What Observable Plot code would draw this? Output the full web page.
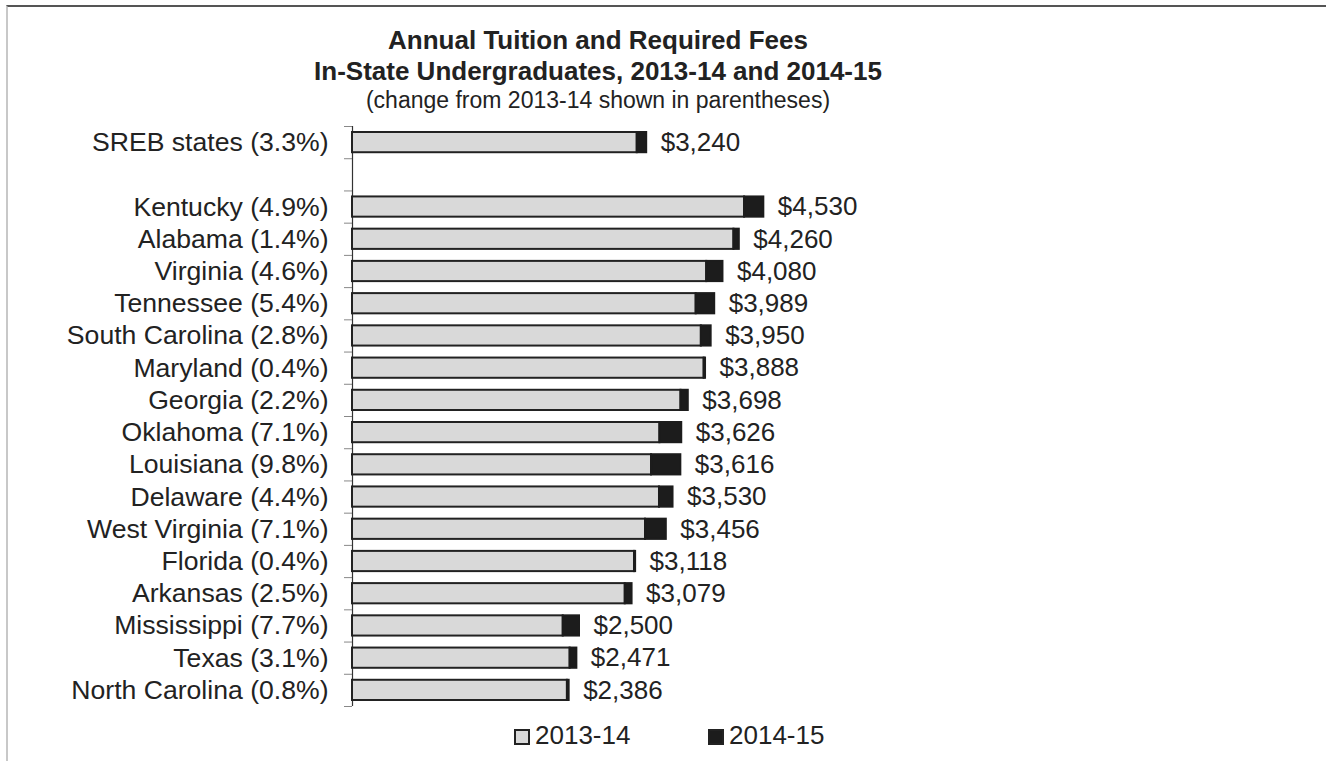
<!DOCTYPE html>
<html>
<head>
<meta charset="utf-8">
<script src="https://cdn.jsdelivr.net/npm/d3@7"></script>
<script src="https://cdn.jsdelivr.net/npm/@observablehq/plot@0.6"></script>
<style>
  body { margin: 0; background: #fff; font-family: "Liberation Sans", Arial, sans-serif; color: #222; }
  #page { position: relative; width: 1326px; height: 761px; overflow: hidden; background: #fff; }
  #frame { position: absolute; left: 6px; top: 5px; right: -10px; bottom: -10px;
           border-top: 2px solid #555; border-left: 2px solid #c8c8c8; }
  .t { position: absolute; left: 0; width: 1196px; text-align: center; white-space: nowrap; line-height: 28px; color: #222; }
  #t1 { top: 26px; font-size: 26px; font-weight: bold; }
  #t2 { top: 57px; font-size: 26px; font-weight: bold; }
  #t3 { top: 86px; font-size: 23px; }
  #chart { position: absolute; left: 0; top: 110px; }
  .leg { position: absolute; top: 720px; height: 30px; line-height: 30px; font-size: 26px; white-space: nowrap; color: #222; }
  .leg .sw { display: inline-block; width: 12px; height: 12px; border: 2px solid #222; vertical-align: -1px; margin-right: 5px; }
</style>
</head>
<body>
<div id="page">
  <div id="frame"></div>
  <div class="t" id="t1">Annual Tuition and Required Fees</div>
  <div class="t" id="t2">In-State Undergraduates, 2013-14 and 2014-15</div>
  <div class="t" id="t3">(change from 2013-14 shown in parentheses)</div>
  <div id="chart"></div>
  <div id="legend"></div>
</div>
<script>
// ---- data ----
const states = ["SREB states", "Kentucky", "Alabama", "Virginia", "Tennessee", "South Carolina",
  "Maryland", "Georgia", "Oklahoma", "Louisiana", "Delaware", "West Virginia", "Florida",
  "Arkansas", "Mississippi", "Texas", "North Carolina"];
const changePct = [3.3, 4.9, 1.4, 4.6, 5.4, 2.8, 0.4, 2.2, 7.1, 9.8, 4.4, 7.1, 0.4, 2.5, 7.7, 3.1, 0.8];
const fees2014 = [3240, 4530, 4260, 4080, 3989, 3950, 3888, 3698, 3626, 3616, 3530, 3456, 3118, 3079, 2500, 2471, 2386];
const fees2013 = [3136, 4318, 4201, 3901, 3785, 3842, 3873, 3618, 3386, 3293, 3381, 3227, 3106, 3004, 2321, 2397, 2367];
const seriesNames = ["2013-14", "2014-15"];
const seriesColors = ["#d9d9d9", "#1c1c1c"];

// first row (SREB) is followed by a blank row
const rows = states.map((s, i) => ({
  row: i === 0 ? 0 : i + 1,
  label: `${s} (${changePct[i].toFixed(1)}%)`,
  fee2013: fees2013[i],
  fee2014: fees2014[i]
}));
const nRows = states.length + 1;
const labelByRow = new Map(rows.map(d => [d.row, d.label]));
const boundaries = d3.range(nRows + 1).map(k => k - 0.5);
const fmt = d3.format("$,");

const chart = Plot.plot({
  width: 1326,
  height: 610,
  marginLeft: 352,
  marginRight: 520,
  marginTop: 16,
  marginBottom: 14,
  style: { fontFamily: "'Liberation Sans', Arial, sans-serif", fontSize: "26px", color: "#222", background: "transparent" },
  x: { domain: [0, 5000], axis: null },
  y: { domain: [-0.5, nRows - 0.5], reverse: true, axis: null },
  marks: [
    Plot.axisY(boundaries, { tickSize: 8, tickFormat: () => "", stroke: "#888", label: null }),
    Plot.axisY(rows.map(d => d.row), { tickSize: 0, tickPadding: 24, tickFormat: r => labelByRow.get(r), fontSize: 26.6, label: null }),
    Plot.ruleX([0], { y1: -0.5, y2: nRows - 0.5, stroke: "#333", strokeWidth: 1.2 }),
    Plot.rectX(rows, { x1: d => 0, x2: "fee2013", y1: d => d.row - 0.5, y2: d => d.row + 0.5,
      insetTop: 6, insetBottom: 6, fill: seriesColors[0], stroke: "#222", strokeWidth: 2 }),
    Plot.rectX(rows, { x1: "fee2013", x2: "fee2014", y1: d => d.row - 0.5, y2: d => d.row + 0.5,
      insetTop: 6, insetBottom: 6, fill: seriesColors[1], stroke: seriesColors[1], strokeWidth: 2 }),
    Plot.text(rows, { x: "fee2014", y: "row", text: d => fmt(d.fee2014), dx: 14, textAnchor: "start", fontSize: 26, fill: "#222" })
  ]
});
document.getElementById("chart").appendChild(chart);

// legend
const legend = document.getElementById("legend");
const legLeft = [514, 708];
seriesNames.forEach((name, i) => {
  const item = document.createElement("div");
  item.className = "leg";
  item.style.left = legLeft[i] + "px";
  const sw = document.createElement("span");
  sw.className = "sw";
  sw.style.background = seriesColors[i];
  sw.style.borderColor = "#222";
  item.appendChild(sw);
  item.appendChild(document.createTextNode(name));
  legend.appendChild(item);
});
</script>
</body>
</html>
